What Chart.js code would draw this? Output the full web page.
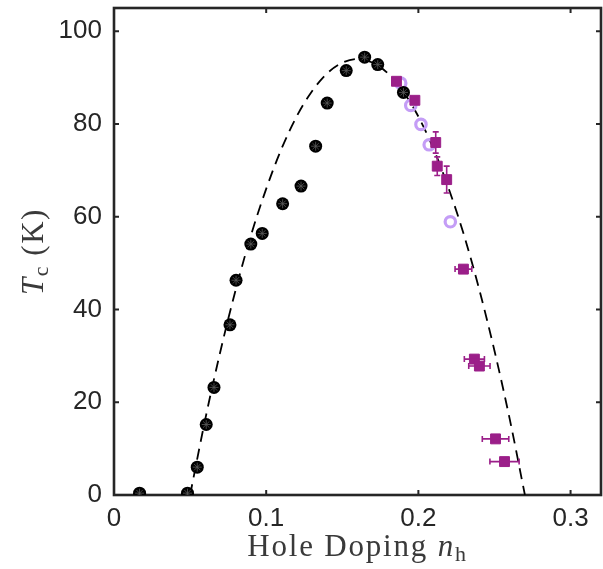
<!DOCTYPE html>
<html>
<head>
<meta charset="utf-8">
<script src="https://cdn.jsdelivr.net/npm/chart.js@4.4.1/dist/chart.umd.min.js"></script>
<style>
  html, body { margin: 0; padding: 0; background: #ffffff; }
  #wrap { width: 603px; height: 569px; }
</style>
</head>
<body>
<div id="wrap"><canvas id="tc" width="603" height="569"></canvas></div>
<script>
// Tc vs hole doping: reference dome, black circle series, purple square series (with error bars), open lavender circles
const blackDoping = [0.0168, 0.0483, 0.0547, 0.0606, 0.0657, 0.0762, 0.0802, 0.0899, 0.0974, 0.1108, 0.1229, 0.1325, 0.1401, 0.1526, 0.1647, 0.1733, 0.1902];
const blackTc     = [0.4, 0.4, 6.0, 15.2, 23.2, 36.7, 46.3, 54.1, 56.4, 62.8, 66.6, 75.2, 84.5, 91.5, 94.4, 92.8, 86.8];

const squareDoping    = [0.1856, 0.1977, 0.2114, 0.2124, 0.2186, 0.2296, 0.2368, 0.2401, 0.2507, 0.2566];
const squareTc        = [89.2, 85.1, 76.0, 70.9, 68.0, 48.7, 29.3, 27.8, 12.1, 7.2];
const squareTcErr     = [0, 0, 2.3, 2.0, 2.9, 0, 0, 0, 0, 0];
const squareDopingErr = [0, 0, 0, 0, 0, 0.0055, 0.0066, 0.0070, 0.0087, 0.0096];

const circleDoping = [0.1884, 0.1950, 0.2017, 0.2071, 0.2210];
const circleTc     = [88.8, 84.0, 79.9, 75.5, 58.9];

const domeDoping = [0.05, 0.06, 0.07, 0.08, 0.09, 0.10, 0.11, 0.12, 0.13, 0.14, 0.15, 0.16,
                    0.17, 0.18, 0.19, 0.20, 0.21, 0.22, 0.23, 0.24, 0.25, 0.26, 0.27];
const domeTc     = [0, 16.4, 31.1, 44.3, 56.0, 66.0, 74.6, 81.6, 87.0, 90.9, 93.2, 94.0,
                    93.2, 90.9, 87.0, 81.6, 74.6, 66.0, 56.0, 44.3, 31.1, 16.4, 0];

const xTicks = [0, 0.1, 0.2, 0.3];
const yTicks = [0, 20, 40, 60, 80, 100];
const xTickLabels = ['0', '0.1', '0.2', '0.3'];
const yTickLabels = ['0', '20', '40', '60', '80', '100'];

const AXIS_COLOR = '#262626';
const SQUARE_COLOR = '#9b1f89';
const CIRCLE_COLOR = '#c49df6';

const pts = (xs, ys) => xs.map((x, i) => ({ x: x, y: ys[i] }));

// Box round the plot area with inward ticks on all four sides (drawn under the data)
const boxPlugin = {
  id: 'boxPlugin',
  beforeDatasetsDraw(chart) {
    const { ctx, chartArea: a, scales } = chart;
    const tl = 5;
    ctx.save();
    ctx.strokeStyle = AXIS_COLOR;
    ctx.lineWidth = 2;
    ctx.beginPath();
    xTicks.forEach(v => {
      const px = scales.x.getPixelForValue(v);
      ctx.moveTo(px, a.bottom); ctx.lineTo(px, a.bottom - tl);
      ctx.moveTo(px, a.top); ctx.lineTo(px, a.top + tl);
    });
    yTicks.forEach(v => {
      const py = scales.y.getPixelForValue(v);
      ctx.moveTo(a.left, py); ctx.lineTo(a.left + tl, py);
      ctx.moveTo(a.right, py); ctx.lineTo(a.right - tl, py);
    });
    ctx.stroke();
    ctx.lineWidth = 2.6;
    ctx.strokeRect(a.left, a.top, a.right - a.left, a.bottom - a.top);
    ctx.restore();
  }
};

// Error bars for the square series
const errorBarPlugin = {
  id: 'errorBarPlugin',
  afterDatasetsDraw(chart) {
    const { ctx, scales } = chart;
    const cap = 3;
    ctx.save();
    ctx.strokeStyle = SQUARE_COLOR;
    ctx.lineWidth = 1.6;
    ctx.beginPath();
    squareDoping.forEach((x, i) => {
      const cx = scales.x.getPixelForValue(x);
      const cy = scales.y.getPixelForValue(squareTc[i]);
      if (squareTcErr[i] > 0) {
        const y1 = scales.y.getPixelForValue(squareTc[i] - squareTcErr[i]);
        const y2 = scales.y.getPixelForValue(squareTc[i] + squareTcErr[i]);
        ctx.moveTo(cx, y1); ctx.lineTo(cx, y2);
        ctx.moveTo(cx - cap, y1); ctx.lineTo(cx + cap, y1);
        ctx.moveTo(cx - cap, y2); ctx.lineTo(cx + cap, y2);
      }
      if (squareDopingErr[i] > 0) {
        const x1 = scales.x.getPixelForValue(x - squareDopingErr[i]);
        const x2 = scales.x.getPixelForValue(x + squareDopingErr[i]);
        ctx.moveTo(x1, cy); ctx.lineTo(x2, cy);
        ctx.moveTo(x1, cy - cap); ctx.lineTo(x1, cy + cap);
        ctx.moveTo(x2, cy - cap); ctx.lineTo(x2, cy + cap);
      }
    });
    ctx.stroke();
    ctx.restore();
  }
};

// Axis titles with italic symbols and subscripts
const titlePlugin = {
  id: 'titlePlugin',
  afterDraw(chart) {
    const { ctx, chartArea: a } = chart;
    const size = 31;
    const sub = Math.round(size * 0.7);
    const fam = '"Liberation Serif", "Times New Roman", serif';
    const upright = size + 'px ' + fam;
    const italic = 'italic ' + size + 'px ' + fam;
    const subFont = sub + 'px ' + fam;
    ctx.save();
    ctx.fillStyle = '#3a3a3a';
    ctx.textBaseline = 'alphabetic';
    ctx.textAlign = 'left';
    ctx.letterSpacing = '1.8px';

    // x title: Hole Doping n_h
    const xParts = [
      { t: 'Hole Doping ', f: upright, dy: 0 },
      { t: 'n', f: italic, dy: 0 },
      { t: 'h', f: subFont, dy: 5 }
    ];
    let w = 0;
    xParts.forEach(p => { ctx.font = p.f; p.w = ctx.measureText(p.t).width; w += p.w; });
    let x = (a.left + a.right) / 2 - w / 2;
    const base = 556;
    xParts.forEach(p => { ctx.font = p.f; ctx.fillText(p.t, x, base + p.dy); x += p.w; });

    // y title: T_c (K), rotated
    ctx.letterSpacing = '1.5px';
    const yParts = [
      { t: 'T', f: italic, dy: 0 },
      { t: 'c', f: subFont, dy: 5 },
      { t: ' (K)', f: upright, dy: 0 }
    ];
    w = 0;
    yParts.forEach(p => { ctx.font = p.f; p.w = ctx.measureText(p.t).width; w += p.w; });
    ctx.translate(43, (a.top + a.bottom) / 2);
    ctx.rotate(-Math.PI / 2);
    x = -w / 2;
    yParts.forEach(p => { ctx.font = p.f; ctx.fillText(p.t, x, p.dy); x += p.w; });
    ctx.restore();
  }
};

const tickFont = { family: '"Liberation Sans", Arial, Helvetica, sans-serif', size: 26 };

new Chart(document.getElementById('tc'), {
  type: 'scatter',
  data: {
    datasets: [
      {
        label: 'squares',
        data: pts(squareDoping, squareTc),
        pointStyle: 'rect',
        pointRadius: 7,
        backgroundColor: SQUARE_COLOR,
        borderColor: SQUARE_COLOR,
        borderWidth: 1,
        order: 1
      },
      {
        label: 'black asterisk',
        data: pts(blackDoping, blackTc),
        pointStyle: 'star',
        pointRadius: 4.5,
        backgroundColor: 'rgba(0,0,0,0)',
        borderColor: '#5a5a5a',
        borderWidth: 0.8,
        order: 2
      },
      {
        label: 'black',
        data: pts(blackDoping, blackTc),
        pointStyle: 'circle',
        pointRadius: 6.5,
        backgroundColor: '#000000',
        borderColor: '#000000',
        borderWidth: 0,
        order: 3
      },
      {
        label: 'open circles',
        data: pts(circleDoping, circleTc),
        pointStyle: 'circle',
        pointRadius: 5.2,
        backgroundColor: 'rgba(255,255,255,0)',
        borderColor: CIRCLE_COLOR,
        borderWidth: 3.2,
        order: 4
      },
      {
        type: 'line',
        label: 'dome',
        data: pts(domeDoping, domeTc),
        borderColor: '#000000',
        borderWidth: 1.8,
        borderDash: [11, 7],
        pointRadius: 0,
        fill: false,
        cubicInterpolationMode: 'monotone',
        order: 5
      }
    ]
  },
  options: {
    responsive: false,
    devicePixelRatio: 1,
    animation: false,
    events: [],
    layout: { autoPadding: false, padding: { top: 8, right: 2, left: 0, bottom: 0 } },
    plugins: {
      legend: { display: false },
      tooltip: { enabled: false }
    },
    scales: {
      x: {
        type: 'linear',
        min: 0,
        max: 0.32,
        grid: { display: false, drawTicks: false },
        border: { display: false },
        afterFit: s => { s.height = 74; s.paddingLeft = 0; s.paddingRight = 0; },
        afterBuildTicks: s => { s.ticks = xTicks.map(v => ({ value: v })); },
        ticks: {
          includeBounds: false,
          color: AXIS_COLOR,
          font: tickFont,
          padding: 8,
          maxRotation: 0,
          callback: (v) => xTickLabels[xTicks.indexOf(v)] ?? ''
        }
      },
      y: {
        type: 'linear',
        min: 0,
        max: 105,
        grid: { display: false, drawTicks: false },
        border: { display: false },
        afterFit: s => { s.width = 114; s.paddingTop = 0; s.paddingBottom = 0; },
        afterBuildTicks: s => { s.ticks = yTicks.map(v => ({ value: v })); },
        ticks: {
          includeBounds: false,
          color: AXIS_COLOR,
          font: tickFont,
          padding: 12,
          callback: (v) => yTickLabels[yTicks.indexOf(v)] ?? ''
        }
      }
    }
  },
  plugins: [boxPlugin, errorBarPlugin, titlePlugin]
});
</script>
</body>
</html>
